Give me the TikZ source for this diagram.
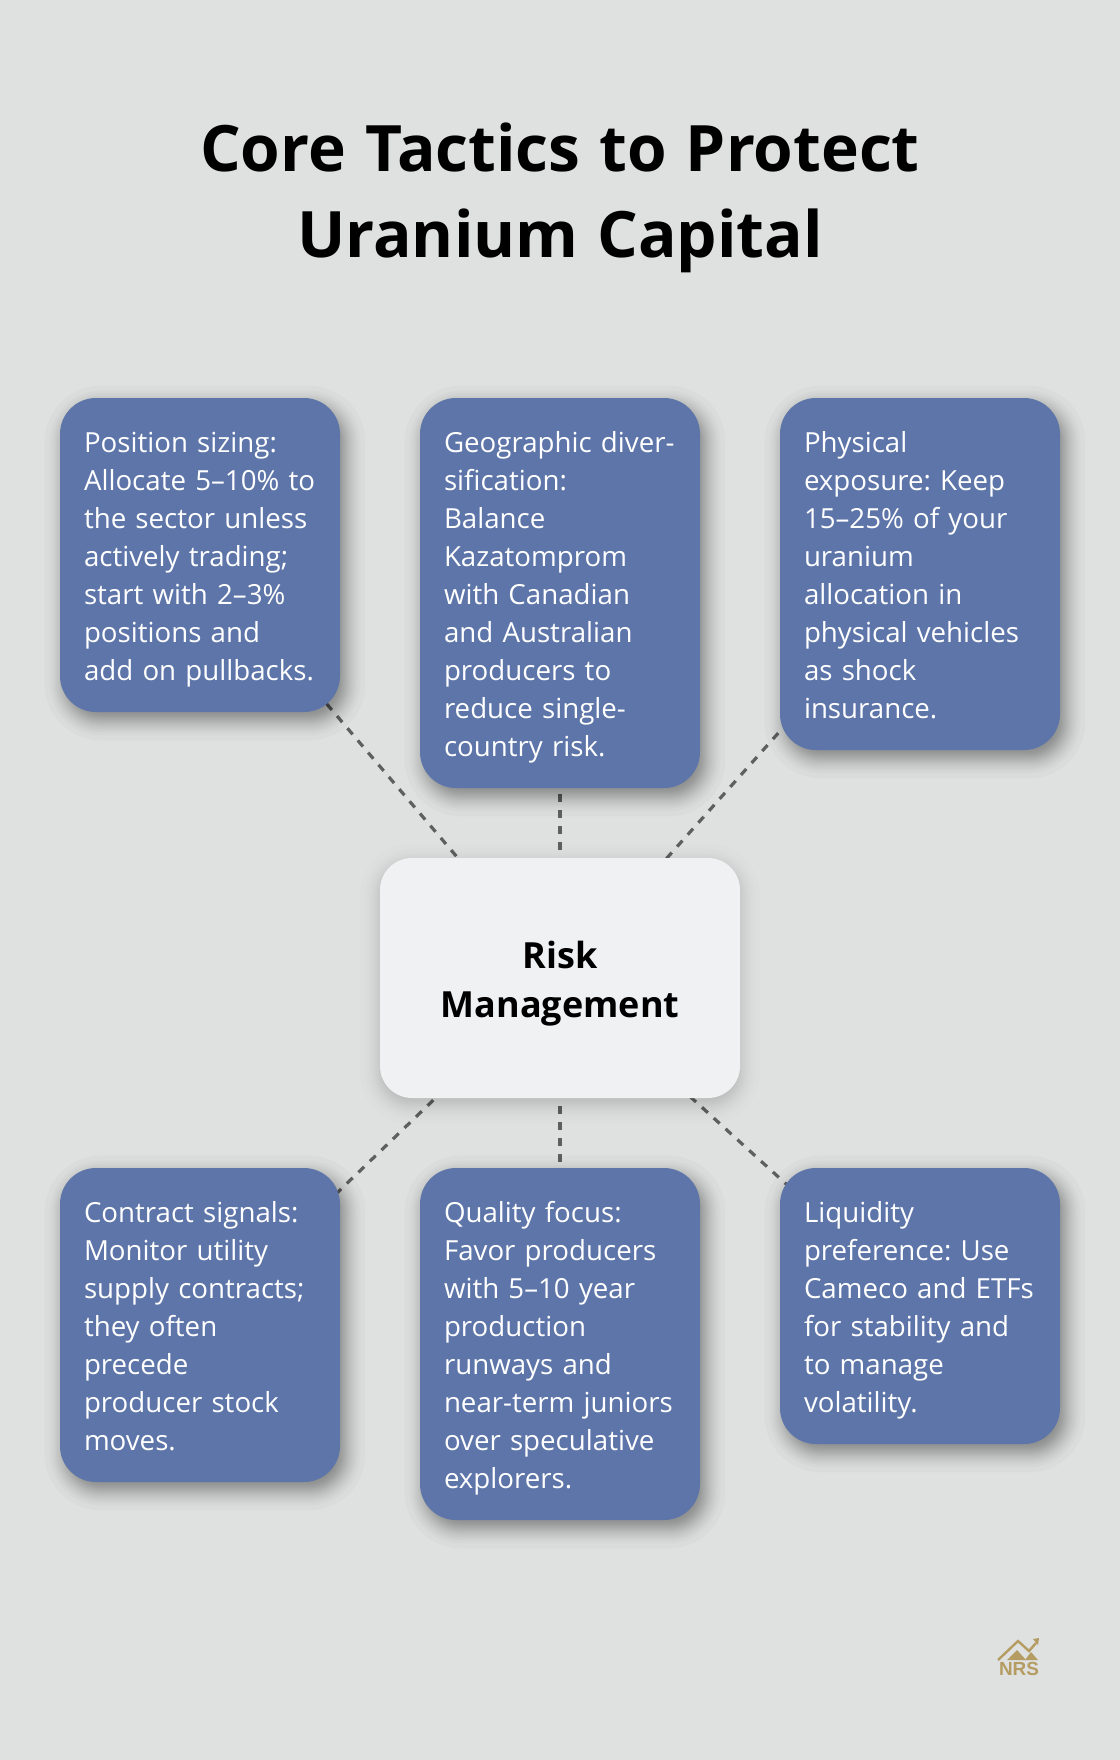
\documentclass[tikz,border=0pt]{standalone}
\usepackage{fontspec}
\setmainfont{Open Sans}
\newfontfamily\logofont{Liberation Sans}
\usetikzlibrary{positioning, backgrounds}
\definecolor{pagebg}{HTML}{DFE1E0}
\definecolor{boxblue}{HTML}{5D75A8}
\definecolor{boxlight}{HTML}{EFF1F3}
\definecolor{linkgray}{HTML}{5F5F5F}
\definecolor{logogold}{HTML}{B59C62}
\newcommand{\boxstrut}{\rule[-5.4pt]{0pt}{28.5pt}}
\newcommand{\midstrut}{\rule[-7.4pt]{0pt}{36.75pt}}
\newcommand{\titlefont}{\fontsize{48}{64.5}\selectfont\bfseries\spaceskip=14.2pt\relax}
% node, x shift, y shift, radius, opacity of one layer
\newcommand{\softshadow}[5]{
    \foreach \s in {-20.4,-15.3,-12.6,-10.5,-8.9,-7.4,-6.1,-4.9,-3.7,-2.6,-1.6,-0.5,0.5,1.6,2.6,3.7,4.9,6.1,7.4,8.9,10.5,12.6,15.3,20.4} {
        \fill[black, fill opacity=#5, rounded corners={max(1,#4+0.75*\s)*1pt}]
          ([shift={(#2-\s,#3-\s)}]#1.north west) rectangle ([shift={(#2+\s,#3+\s)}]#1.south east);
    }
}

\begin{document}
\frenchspacing
\begin{tikzpicture}[x=0.75pt, y=-0.75pt, >=stealth, outer sep=0pt]
    \tikzstyle{format} = [fill=boxblue, text=white, rounded corners=27pt, text width=174pt, inner xsep=18pt, inner ysep=18pt, align=left, font=\fontsize{20.75}{28.5}\selectfont, execute at begin node=\boxstrut, execute at end node=\boxstrut]
    \tikzstyle{center} = [fill=boxlight, rounded corners=24pt, text width=240pt, inner xsep=15pt, minimum height=180pt, align=center, font=\fontsize{27}{36.75}\selectfont\bfseries, execute at begin node=\midstrut, execute at end node=\midstrut]
    \tikzstyle{link} = [linkgray, line width=2.4pt, dash pattern=on 6pt off 6pt]

    \useasboundingbox (0,0) rectangle (1120,1760);

    \node[align=center, font=\titlefont] (T) at (560,198) {Core Tactics to Protect\\Uranium Capital};

    \node[center] (R) at (560,978) {Risk\\Management};

    \node[format, anchor=north west] (P1) at (60,398) {Position sizing:\\Allocate 5--10\% to\\the sector unless\\actively trading;\\start with 2--3\%\\positions and\\add on pullbacks.};
    \node[format, right=60pt of P1.north east, anchor=north west] (P2) {Geographic diver-\\sification:\\Balance\\Kazatomprom\\with Canadian\\and Australian\\producers to\\reduce single-\\country risk.};
    \node[format, right=60pt of P2.north east, anchor=north west] (P3) {Physical\\exposure: Keep\\15--25\% of your\\uranium\\allocation in\\physical vehicles\\as shock\\insurance.};

    \node[format, anchor=north west] (P4) at (60,1168) {Contract signals:\\Monitor utility\\supply contracts;\\they often\\precede\\producer stock\\moves.};
    \node[format, right=60pt of P4.north east, anchor=north west] (P5) {Quality focus:\\Favor producers\\with 5--10 year\\production\\runways and\\near-term juniors\\over speculative\\explorers.};
    \node[format, right=60pt of P5.north east, anchor=north west] (P6) {Liquidity\\preference: Use\\Cameco and ETFs\\for stability and\\to manage\\volatility.};

    \begin{scope}[on background layer]
        \fill[pagebg] (0,0) rectangle (1120,1760);
        \path[link]
          (R.center) edge (P1.center)
          (R.center) edge (P2.center)
          (R.center) edge (P3.center)
          (R.center) edge (P4.center)
          (R.center) edge (P5.center)
          (R.center) edge (P6.center);
        \softshadow{R}{0}{6}{24}{0.006}
        \foreach \n in {P1,P2,P3,P4,P5,P6} {
            \softshadow{\n}{5}{8}{27}{0.018}
        }
    \end{scope}

    % logo
    \draw[logogold, line width=1.8pt, line join=miter] (998,1660) -- (1018,1641) -- (1029,1651) -- (1036,1643);
    \fill[logogold] (1033,1639) -- (1039,1638) -- (1038,1645) -- cycle;
    \fill[logogold] (1007,1660) -- (1017,1650) -- (1026,1660) -- cycle;
    \fill[logogold] (1025,1660) -- (1031,1652) -- (1038,1660) -- cycle;
    \node[logogold, inner sep=0pt, font=\fontsize{14.2}{14.2}\selectfont\logofont\bfseries] (N) at (1019,1669) {NRS};
\end{tikzpicture}
\end{document}
